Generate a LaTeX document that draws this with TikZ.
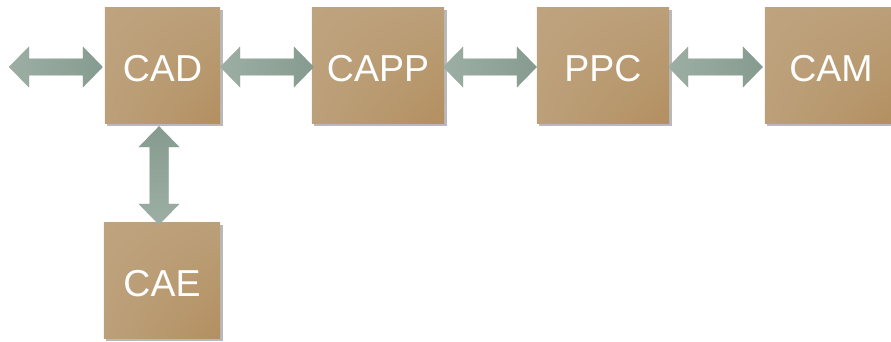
\documentclass[tikz,border=0pt]{standalone}
\usepackage{fontspec}
\setmainfont{Liberation Sans}
\usetikzlibrary{calc,shadings}

\definecolor{boxUL}{HTML}{BEA37F}
\definecolor{boxUR}{HTML}{BB9F78}
\definecolor{boxLL}{HTML}{BCA07A}
\definecolor{boxLR}{HTML}{B38F60}
\definecolor{linkL}{HTML}{9DAFA4}
\definecolor{linkM}{HTML}{A9B9AF}
\definecolor{linkR}{HTML}{869B8F}
\definecolor{shadowgray}{HTML}{8A8A8A}

\tikzset{
  stage/.style={rectangle, inner sep=0pt, minimum height=115pt, text=white,
    font=\fontsize{37.5}{40}\selectfont},
  boxshade/.style={upper left=boxUL, upper right=boxUR, lower left=boxLL, lower right=boxLR},
  boxshadow/.style={fill=shadowgray, opacity=0.6},
  linkshade/.style={left color=linkL, middle color=linkM, right color=linkR},
  vlinkshade/.style={top color=linkR, middle color=linkM, bottom color=linkL},
  linkshadow/.style={fill=shadowgray, opacity=0.45},
}

% shaded box behind a named node
\newcommand\stagebg[1]{%
  \fill[boxshadow] ($(#1.south west)+(2.5,-2.5)$) rectangle ($(#1.north east)+(2.5,-2.5)$);
  \shade[boxshade] (#1.south west) rectangle (#1.north east);}

% horizontal double-headed block arrow between two points
\newcommand\hlinkpath[2]{(#1) -- ($(#1)+(20,20.5)$) -- ($(#1)+(20,8.3)$) -- ($(#2)+(-20,8.3)$)
  -- ($(#2)+(-20,20.5)$) -- (#2) -- ($(#2)+(-20,-20.5)$) -- ($(#2)+(-20,-8.3)$)
  -- ($(#1)+(20,-8.3)$) -- ($(#1)+(20,-20.5)$) -- cycle}
\newcommand\hlink[2]{%
  \fill[linkshadow, shift={(1.5,-1.5)}] \hlinkpath{#1}{#2};
  \shade[linkshade] \hlinkpath{#1}{#2};}

% vertical double-headed block arrow, #1 above #2
\newcommand\vlinkpath[2]{(#1) -- ($(#1)+(20.5,-21)$) -- ($(#1)+(9.5,-21)$) -- ($(#2)+(9.5,21)$)
  -- ($(#2)+(20.5,21)$) -- (#2) -- ($(#2)+(-20.5,21)$) -- ($(#2)+(-9.5,21)$)
  -- ($(#1)+(-9.5,-21)$) -- ($(#1)+(-20.5,-21)$) -- cycle}
\newcommand\vlink[2]{%
  \fill[linkshadow, shift={(1.5,-1.5)}] \vlinkpath{#1}{#2};
  \shade[vlinkshade] \vlinkpath{#1}{#2};}

\begin{document}
\begin{tikzpicture}[x=1pt, y=1pt]
  \useasboundingbox (0,0) rectangle (891,-341);
  \clip (0,0) rectangle (891,-341);

  % stage frames (backgrounds and labels drawn below)
  \node[stage, minimum width=115pt] (cad)  at (162.5,-65.5) {};
  \node[stage, minimum width=132pt] (capp) at (378,-65.5) {};
  \node[stage, minimum width=132pt] (ppc)  at (603,-65.5) {};
  \node[stage, minimum width=132pt] (cam)  at (831,-65.5) {};
  \node[stage, minimum width=116pt] (cae)  at (162,-280.5) {};

  \foreach \n in {cad,capp,ppc,cam,cae} { \stagebg{\n} }

  \node[stage] (cadlbl)  at ($(cad)+(0,-3)$)  {CAD};
  \node[stage] (capplbl) at ($(capp)+(0,-3)$) {CAPP};
  \node[stage] (ppclbl)  at ($(ppc)+(0,-3)$)  {PPC};
  \node[stage] (camlbl)  at ($(cam)+(0,-3)$)  {CAM};
  \node[stage] (caelbl)  at ($(cae)+(0,-3)$)  {CAE};

  % links
  \coordinate (ext) at (9,-67);
  \coordinate (cadin)   at ($(cad.west)+(-2,-1.5)$);
  \coordinate (cadout)  at ($(cad.east)+(0,-1.5)$);
  \coordinate (cappin)  at ($(capp.west)+(2,-1.5)$);
  \coordinate (cappout) at ($(capp.east)+(-1,-1.5)$);
  \coordinate (ppcin)   at ($(ppc.west)+(0,-1.5)$);
  \coordinate (ppcout)  at ($(ppc.east)+(-1,-1.5)$);
  \coordinate (camin)   at ($(cam.west)+(-2,-1.5)$);
  \coordinate (cadbot)  at ($(cad.south)+(-3.5,-3)$);
  \coordinate (caetop)  at ($(cae.north)+(-3,-2)$);

  \hlink{ext}{cadin}
  \hlink{cadout}{cappin}
  \hlink{cappout}{ppcin}
  \hlink{ppcout}{camin}
  \vlink{cadbot}{caetop}
\end{tikzpicture}
\end{document}
